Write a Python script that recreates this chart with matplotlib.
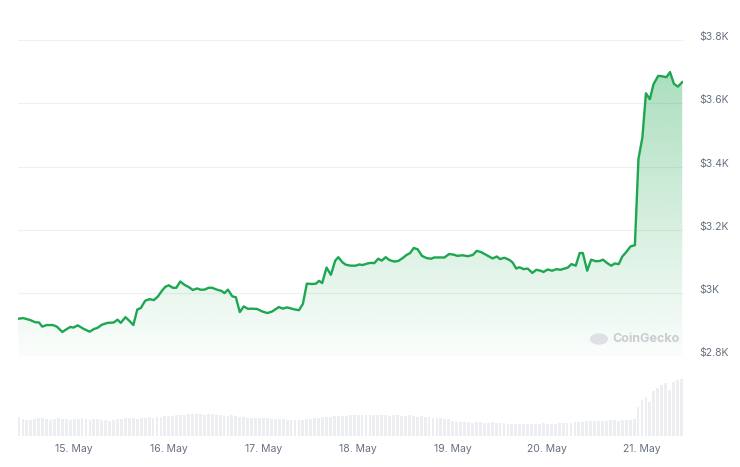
import datetime as dt
import numpy as np
import matplotlib
matplotlib.use("Agg")
import matplotlib.pyplot as plt
import matplotlib.dates as mdates
import matplotlib.transforms as mtransforms
from matplotlib.patches import Polygon, Circle

plt.rcParams['font.family'] = ['Inter', 'DejaVu Sans']

# ---- data -------------------------------------------------------------
# hours since 14 May 00:00 and ETH price (USD)
hours = [9.8, 11.1, 12.8, 14.1, 15.1, 15.9, 17.0, 18.6, 19.6, 21.0, 21.7, 23.0, 23.8,
         24.9, 26.4, 27.9, 29.1, 29.9, 31.0, 32.5, 34.0, 35.0, 35.8, 37.0, 38.1, 39.0,
         40.0, 40.9, 42.0, 43.1, 44.2, 45.2, 46.1, 47.1, 48.0, 49.0, 49.9, 50.9, 52.0,
         53.1, 54.1, 55.2, 56.0, 57.0, 58.1, 59.0, 60.2, 61.4, 62.1, 63.0, 64.1, 65.0,
         66.0, 67.0, 68.1, 68.7, 70.4, 71.7, 73.0, 74.2, 75.9, 76.9, 78.0, 79.7, 81.0,
         82.0, 83.0, 84.4, 85.3, 86.1, 86.9, 88.0, 89.1, 90.2, 91.0, 92.0, 92.9, 94.1,
         95.4, 96.3, 97.1, 98.4, 99.2, 100.1, 101.1, 102.0, 103.0, 103.9, 105.2, 106.2,
         107.3, 108.3, 109.2, 110.1, 111.1, 112.2, 113.4, 114.5, 115.3, 116.6, 117.9,
         119.1, 120.2, 121.2, 122.5, 123.8, 125.1, 126.1, 127.2, 128.5, 129.7, 130.1,
         131.2, 132.0, 133.1, 134.4, 135.2, 136.1, 136.9, 138.0, 139.0, 140.2, 141.2,
         142.3, 143.0, 144.1, 145.2, 146.3, 147.3, 148.4, 149.2, 150.1, 151.2, 152.2,
         153.0, 154.1, 155.1, 156.3, 157.3, 158.1, 159.2, 160.2, 161.1, 162.1, 163.0,
         164.0, 165.1, 166.2, 167.1, 168.1, 169.0, 170.0, 170.9, 172.1, 173.0, 174.2,
         175.1, 176.1, 177.1, 178.2]
prices = [2918, 2920, 2914, 2907, 2906, 2893, 2898, 2898, 2893, 2876, 2882, 2892, 2890,
          2897, 2886, 2877, 2886, 2889, 2899, 2905, 2906, 2915, 2905, 2923, 2910, 2898,
          2947, 2952, 2975, 2980, 2977, 2988, 3004, 3019, 3024, 3016, 3016, 3036, 3025,
          3018, 3009, 3014, 3010, 3010, 3016, 3016, 3010, 3006, 2999, 3010, 2989, 2986,
          2939, 2957, 2949, 2950, 2949, 2941, 2936, 2941, 2955, 2950, 2954, 2948, 2945,
          2965, 3029, 3028, 3029, 3038, 3031, 3080, 3057, 3102, 3113, 3097, 3089, 3086,
          3086, 3090, 3088, 3093, 3095, 3094, 3108, 3102, 3113, 3104, 3099, 3101,
          3110, 3120, 3126, 3142, 3138, 3117, 3110, 3108, 3112, 3112, 3112,
          3123, 3121, 3117, 3119, 3116, 3120, 3133, 3129, 3120, 3112, 3109,
          3115, 3107, 3111, 3104, 3096, 3077, 3081, 3075, 3077, 3063, 3073,
          3070, 3066, 3074, 3070, 3075, 3073, 3077, 3080, 3091, 3086, 3126,
          3126, 3070, 3105, 3100, 3101, 3105, 3094, 3086, 3093, 3091, 3115,
          3129, 3147, 3151, 3424, 3492, 3632, 3613, 3660, 3687, 3686, 3683,
          3699, 3662, 3653, 3667]

# hourly volume (relative units), one bar per hour from 14 May 10:00
vol_hours = list(range(10, 179))
volumes = ([19, 17, 16, 16, 17, 18, 18, 17, 16, 17, 18, 17, 17, 16] +
           [17, 17, 18, 17, 16, 17, 17, 16, 16, 15, 16, 17, 17, 18, 18, 18, 17, 18, 18, 19, 18, 19, 19, 20] +
           [20, 20, 21, 21, 21, 22, 22, 22, 22, 21, 22, 22, 21, 21, 20, 20, 21, 20, 19, 19, 18, 18, 18, 18] +
           [18, 18, 17, 17, 17, 17, 16, 16, 16, 16, 16, 17, 17, 18, 18, 19, 19, 19, 20, 20, 20, 20, 21, 21] +
           [21, 21, 21, 21, 21, 21, 21, 21, 20, 21, 21, 20, 20, 21, 20, 19, 20, 19, 19, 18, 18, 18, 17, 17] +
           [15, 14, 14, 14, 14, 13, 14, 14, 13, 13, 14, 13, 13, 13, 12, 12, 12, 12, 12, 12, 12, 12, 12, 13] +
           [12, 12, 12, 13, 13, 13, 13, 14, 14, 14, 15, 15, 15, 15, 15, 15, 16, 16, 15, 16, 16, 16, 17] +
           [29, 36, 39, 34, 45, 48, 51, 53, 46, 54, 56, 57])

price_ticks = [2800, 3000, 3200, 3400, 3600, 3800]
price_labels = ["$2.8K", "$3K", "$3.2K", "$3.4K", "$3.6K", "$3.8K"]
day_ticks = [15, 16, 17, 18, 19, 20, 21]

# ---- drawing ----------------------------------------------------------
base = dt.datetime(2024, 5, 14)
t = [base + dt.timedelta(hours=h) for h in hours]
tv = [base + dt.timedelta(hours=h) for h in vol_hours]
xlo = mdates.date2num(base + dt.timedelta(hours=9.75))
xhi = mdates.date2num(base + dt.timedelta(hours=178.4))

W, H = 740, 467
fig = plt.figure(figsize=(W / 100, H / 100), dpi=100)
fig.patch.set_facecolor("white")

def box(x0, y0, x1, y1):
    return [x0 / W, 1 - y1 / H, (x1 - x0) / W, (y1 - y0) / H]

ax = fig.add_axes(box(18, 30, 683, 356))
vax = fig.add_axes(box(18, 366, 683, 436))

line_color = "#1da750"
ylo, yhi = 2800, 3000 + (293 - 30) * 200 / 63.2

ax.set_xlim(xlo, xhi)
ax.set_ylim(ylo, yhi)
for p in price_ticks:
    ax.axhline(p, color="#eef0f2", lw=0.8, zorder=0)

tn = mdates.date2num(t)
# gradient fill
verts = [(tn[0], ylo)] + list(zip(tn, prices)) + [(tn[-1], ylo)]
poly = Polygon(verts, closed=True, facecolor="none", edgecolor="none")
ax.add_patch(poly)
grad = np.linspace(0.42, 0.02, 256).reshape(-1, 1)
rgba = np.zeros((256, 1, 4))
rgba[..., 0] = 0x1d / 255
rgba[..., 1] = 0xa7 / 255
rgba[..., 2] = 0x50 / 255
rgba[..., 3] = grad
im = ax.imshow(rgba, extent=[xlo, xhi, ylo, yhi], aspect="auto", origin="upper",
               zorder=1, interpolation="bilinear")
im.set_clip_path(poly)
ax.plot(t, prices, color=line_color, lw=1.7, zorder=3, solid_joinstyle="round")

ax.set_xlim(xlo, xhi)
ax.set_ylim(ylo, yhi)
ax.set_xticks([])
ax.yaxis.tick_right()
ax.set_yticks(price_ticks)
ax.set_yticklabels(price_labels)
ax.tick_params(axis="y", length=0, pad=12, labelsize=7.5, labelcolor="#667080")
shift = mtransforms.ScaledTranslation(0, 4 / 100, fig.dpi_scale_trans)
for lab in ax.get_yticklabels():
    lab.set_transform(lab.get_transform() + shift)
for s in ax.spines.values():
    s.set_visible(False)

# watermark
fig.text(612 / W, 1 - 339 / H, "CoinGecko", fontsize=9, color="#c9cdd3",
         va="center", ha="left", fontweight="bold")
fig.patches.append(Circle((599 / W, 1 - 339 / H), 9 / W, transform=fig.transFigure,
                          facecolor="#dde0e4", edgecolor="none"))

# volume
vax.bar(tv, volumes, width=0.72 / 24, color="#eceef1", edgecolor="none")
vax.set_xlim(xlo, xhi)
vax.set_ylim(0, 70)
vax.set_yticks([])
vax.set_xticks([mdates.date2num(dt.datetime(2024, 5, d)) for d in day_ticks])
vax.set_xticklabels([f"{d}. May" for d in day_ticks])
vax.tick_params(axis="x", length=0, pad=6, labelsize=7.5, labelcolor="#667080")
for s in vax.spines.values():
    s.set_visible(False)

fig.savefig("out.png", dpi=100, facecolor="white")
